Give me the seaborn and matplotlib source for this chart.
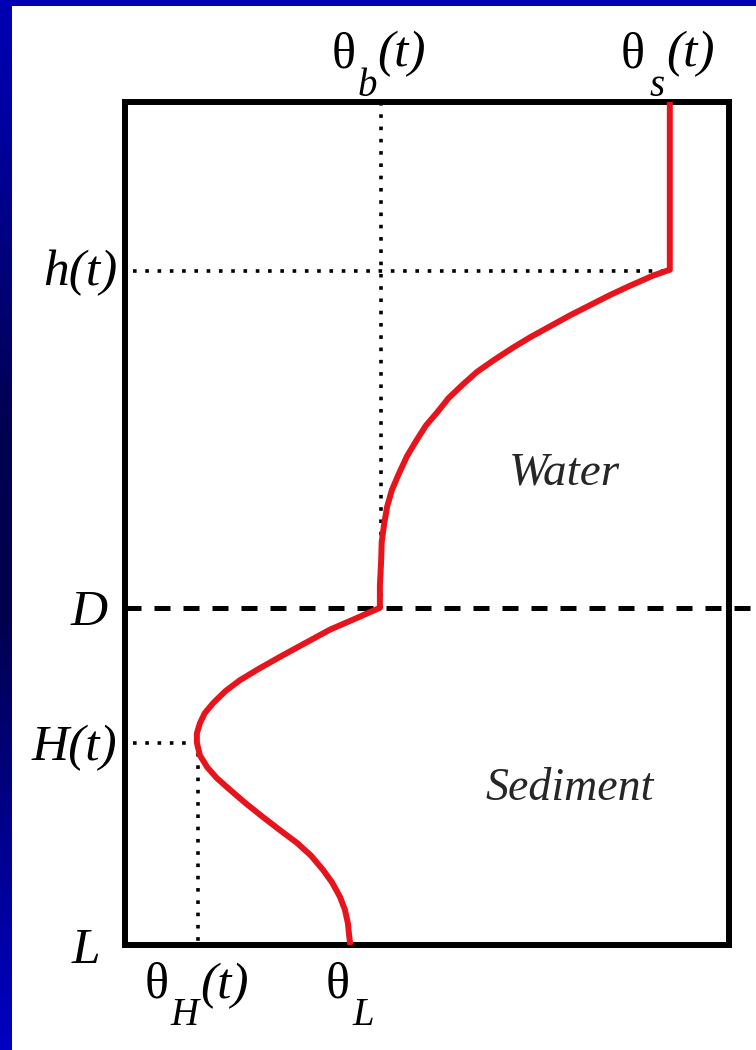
import numpy as np
import matplotlib
matplotlib.use("Agg")
import matplotlib.pyplot as plt
from matplotlib import font_manager as fm
from matplotlib.colors import LinearSegmentedColormap
from matplotlib.patches import Rectangle
import seaborn as sns

# Temperature profile through the water column and the sediment
# (depth measured downward from the surface, both axes normalised)
depth = [0.000, 0.199, 0.206, 0.218, 0.229, 0.241, 0.253, 0.266, 0.279, 0.292,
         0.306, 0.320, 0.336, 0.351, 0.368, 0.384, 0.402, 0.420, 0.440, 0.460,
         0.480, 0.501, 0.522, 0.546, 0.573, 0.600, 0.613, 0.626, 0.642, 0.658,
         0.673, 0.686, 0.699, 0.713, 0.725, 0.737, 0.749, 0.760, 0.775, 0.789,
         0.802, 0.816, 0.832, 0.848, 0.864, 0.879, 0.894, 0.911, 0.926, 0.943,
         0.958, 0.974, 0.988, 1.000]
theta = [0.902, 0.902, 0.874, 0.836, 0.803, 0.770, 0.737, 0.704, 0.671, 0.641,
         0.611, 0.583, 0.558, 0.536, 0.517, 0.498, 0.482, 0.467, 0.454, 0.442,
         0.434, 0.429, 0.425, 0.424, 0.422, 0.422, 0.381, 0.339, 0.298, 0.257,
         0.220, 0.190, 0.166, 0.146, 0.132, 0.124, 0.119, 0.119, 0.124, 0.136,
         0.152, 0.174, 0.200, 0.228, 0.257, 0.285, 0.308, 0.328, 0.343, 0.356,
         0.364, 0.369, 0.371, 0.373]

# Characteristic depths and temperatures
h_level, D_level, H_level, L_level = 0.200, 0.600, 0.760, 1.000
theta_b, theta_s, theta_H, theta_L = 0.424, 0.902, 0.121, 0.373

sns.set_style("white")

available = {f.name for f in fm.fontManager.ttflist}
serif = next((n for n in ["Liberation Serif", "Times New Roman", "DejaVu Serif"]
              if n in available), "serif")
plt.rcParams["font.family"] = [serif, "DejaVu Serif"]

W, H = 756, 1050
fig = plt.figure(figsize=(W / 100, H / 100), dpi=100, facecolor="white")

# Blue slide frame: gradient strip on the left, solid strip on top
frame_cmap = LinearSegmentedColormap.from_list(
    "frame", [(0.0, "#0000B4"), (0.12, "#0000A0"), (0.40, "#000052"),
              (0.58, "#00004C"), (0.82, "#000094"), (1.0, "#0000C0")])
bx = fig.add_axes([0, 0, 12 / W, 1])
bx.imshow(np.linspace(0, 1, 256)[:, None], aspect="auto", cmap=frame_cmap)
bx.set_axis_off()
fig.add_artist(Rectangle((0, 1 - 6 / H), 1, 6 / H, transform=fig.transFigure,
                         color="#0000B4", lw=0))

ax = fig.add_axes([125 / W, 1 - 945 / H, 604 / W, 843 / H])
ax.set_facecolor("white")

sns.lineplot(x=theta, y=depth, sort=False, ax=ax, color="#E8141C",
             lw=4.3, zorder=4, estimator=None)
for ln in ax.get_lines():
    ln.set_solid_joinstyle("round")
    ln.set_solid_capstyle("butt")

dotted = dict(color="black", lw=2.6, linestyle=(0, (1.0, 2.4)), zorder=3)
ax.plot([0.014, theta_s], [h_level, h_level], **dotted)
ax.plot([theta_b, theta_b], [0, D_level], **dotted)
ax.plot([0.014, theta_H - 0.006], [H_level, H_level], **dotted)
ax.plot([theta_H, theta_H], [H_level + 0.012, L_level], **dotted)

# Water / sediment interface, continued past the frame
ax.plot([0, 1.045], [D_level, D_level], color="black", lw=3.6,
        linestyle=(0, (3.2, 2.6)), zorder=3, clip_on=False)

ax.set_xlim(0, 1)
ax.set_ylim(1, 0)
ax.set_xticks([])
ax.set_yticks([])
ax.set_xlabel("")
ax.set_ylabel("")
for sp in ax.spines.values():
    sp.set_visible(True)
    sp.set_color("black")
    sp.set_linewidth(4.3)

PX = 0.72  # points per pixel at 100 dpi
MAIN, GREEK, SUB = 37, 36, 28


def put(text, xy, coords, dx, dy, size, style="italic", ha="left"):
    ax.annotate(text, xy=xy, xycoords=coords, xytext=(dx * PX, dy * PX),
                textcoords="offset points", ha=ha, va="baseline",
                fontsize=size, fontstyle=style, family=serif,
                annotation_clip=False, color="black")


top = ax.get_xaxis_transform()
side = ax.get_yaxis_transform()

# Temperature labels above the frame
for val, sub in [(theta_b, "b"), (theta_s, "s")]:
    put("θ", (val, 1), top, -49, 35, GREEK, style="normal")
    put(sub, (val, 1), top, -24 if sub == "b" else -20, 6, SUB)
    put("(t)", (val, 1), top, -4, 36, MAIN)

# Temperature labels below the frame
put("θ", (theta_H, 0), top, -53, -53, GREEK, style="normal")
put("H", (theta_H, 0), top, -28, -80, SUB)
put("(t)", (theta_H, 0), top, 2, -53, MAIN)
put("θ", (theta_L, 0), top, -25, -53, GREEK, style="normal")
put("L", (theta_L, 0), top, 2, -80, SUB)

# Depth labels to the left of the frame
put("h(t)", (0, h_level), side, -8, -15, MAIN, ha="right")
put("D", (0, D_level), side, -17, -17, MAIN, ha="right")
put("H(t)", (0, H_level), side, -8, -17, MAIN, ha="right")
put("L", (0, L_level), side, -25, -18, MAIN, ha="right")

ax.text(0.728, 0.454, "Water", ha="center", va="baseline",
        fontsize=34, fontstyle="italic", family=serif)
ax.text(0.737, 0.828, "Sediment", ha="center", va="baseline",
        fontsize=33, fontstyle="italic", family=serif)

fig.savefig("out.png", dpi=100, facecolor="white")
